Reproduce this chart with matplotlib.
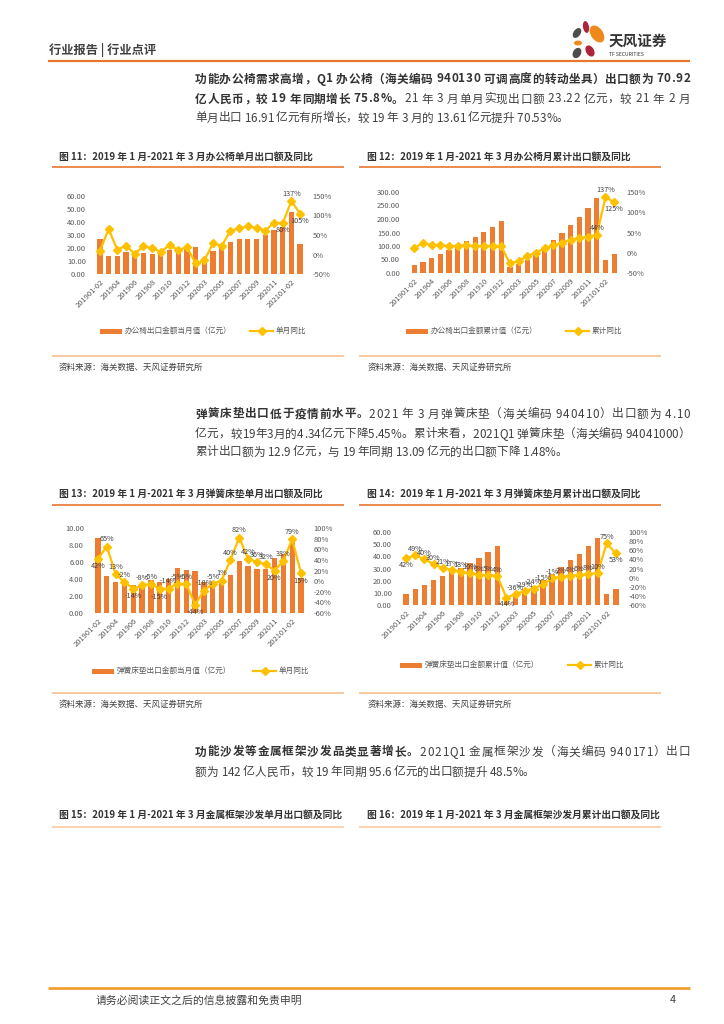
import matplotlib
matplotlib.use("Agg")
import matplotlib.pyplot as plt
from matplotlib.patches import Ellipse, Rectangle
from matplotlib.font_manager import FontProperties
import numpy as np

FAM = ['Noto Sans CJK SC', 'DejaVu Sans']
plt.rcParams['font.family'] = FAM

# ---------------- data ----------------
months = ["201901-02", "201903", "201904", "201905", "201906", "201907", "201908", "201909",
          "201910", "201911", "201912", "202001-02", "202003", "202004", "202005", "202006",
          "202007", "202008", "202009", "202010", "202011", "202012", "202101-02", "202103"]

office_month = [26.7, 13.6, 13.8, 16.9, 16.0, 15.9, 15.4, 17.0, 18.2, 17.5, 20.0, 20.5,
                11.6, 17.7, 20.5, 24.4, 26.7, 27.2, 27.2, 30.0, 34.0, 36.0, 47.7, 23.2]
office_yoy_m = [10, 65, 12, 23, 1, 22, 16, 7, 24, 11, 19, -23, -15, 29, 22, 61, 67, 72,
                68, 61, 82, 80, 137, 105]
office_cum = [28, 40, 56, 71, 86, 102, 119, 134, 152, 171, 193, 22, 33, 50, 70, 93, 122,
              147, 177, 207, 240, 277, 48, 71]
office_yoy_c = [12, 24, 19, 19, 16, 17, 18, 17, 17, 17, 16, -26, -21, -8, 0, 11, 18, 25,
                32, 36, 40, 44, 137, 125]

mattress_month = [8.8, 4.34, 3.7, 3.5, 3.27, 3.1, 3.9, 3.7, 4.0, 5.35, 5.08, 4.96, 3.6,
                  3.5, 3.8, 4.5, 6.06, 5.55, 5.2, 5.2, 6.5, 7.0, 8.8, 4.1]
mattress_yoy_m = [42, 65, 13, -2, -14, -8, -5, -15, -14, -5, -5, -44, -18, -5, 1, 40, 82,
                  42, 36, 32, 20, 38, 79, 15]
mattress_cum = [9.0, 13.3, 16.8, 20.4, 23.6, 27.0, 30.7, 34.3, 38.3, 43.7, 48.9, 5.0, 8.6,
                12.1, 16.0, 20.4, 25.8, 31.2, 36.7, 41.8, 48.3, 55.2, 8.8, 12.9]
mattress_yoy_c = [42, 49, 40, 30, 21, 17, 13, 10, 6, 5, 4, -44, -36, -29, -24, -15, -1, 2,
                  4, 6, 8, 10, 75, 53]

# ---------------- styles ----------------
BAR = "#ED7D31"
LINE = "#FFC000"
TXT = "#333333"
BODY = "#404040"
TICK = "#595959"
ORANGE = "#E8772E"
PEACH = "#F8C9A0"
MS = 4.3

W, H = 724, 1024
fig = plt.figure(figsize=(W / 100, H / 100), dpi=100)
bg = fig.add_axes([0, 0, 1, 1])
bg.set_xlim(0, W)
bg.set_ylim(H, 0)
bg.axis('off')
renderer = fig.canvas.get_renderer()


def hline(y, x0, x1, color, lw):
    bg.plot([x0, x1], [y, y], color=color, lw=lw, solid_capstyle='butt')


def measure(s, size, bold):
    fp = FontProperties(family=FAM, size=size, weight='bold' if bold else 'normal')
    w, h, d = renderer.get_text_width_height_descent(s, fp, ismath=False)
    return w


def runs(x, y, parts, size=8.4, justify_to=None):
    chars = [(c, b) for text, b in parts for c in text]
    widths = [measure(c, size, b) for c, b in chars]
    extra = 0.0
    if justify_to is not None and len(chars) > 1:
        extra = (justify_to - x - sum(widths)) / (len(chars) - 1)
    for (c, b), w in zip(chars, widths):
        if c != " ":
            bg.text(x, y, c, fontsize=size, color=TXT if b else BODY, va='center',
                    ha='left', fontweight='bold' if b else 'normal')
        x += w + extra


# ---------------- header ----------------
bg.text(49, 50, "行业报告 | 行业点评", fontsize=8.8, color="#404040", va='center',
        fontweight='bold')
hline(60.5, 48, 690, ORANGE, 1.6)
for (cx, cy, w, h, ang, col) in [(577, 33, 7, 11, 35, "#4D4D4D"),
                                 (586, 27, 6, 12, -10, "#B0243B"),
                                 (597, 34, 12, 19, -35, "#EE8A1C"),
                                 (578, 43, 8, 5, 0, "#EE8A1C"),
                                 (577, 53, 8, 11, 30, "#4D4D4D"),
                                 (590, 51, 8, 12, -30, "#B0243B")]:
    bg.add_patch(Ellipse((cx, cy), w, h, angle=ang, color=col, lw=0))
bg.text(609, 41, "天风证券", fontsize=10.5, color="#333333", va='center',
        fontweight='bold')
bg.text(609, 55, "TF SECURITIES", fontsize=3.6, color="#333333", va='center')

# ---------------- paragraphs ----------------
PX, PR = 195, 690
runs(PX, 79, [("功能办公椅需求高增，Q1 办公椅（海关编码 940130 可调高度的转动坐具）出口额为 70.92", True)],
     justify_to=PR)
runs(PX, 99, [("亿人民币，较 19 年同期增长 75.8%。", True),
              ("21 年 3 月单月实现出口额 23.22 亿元，较 21 年 2 月", False)], justify_to=PR)
runs(PX, 118, [("单月出口 16.91 亿元有所增长，较 19 年 3 月的 13.61 亿元提升 70.53%。", False)])

runs(PX, 414, [("弹簧床垫出口低于疫情前水平。", True),
               ("2021 年 3 月弹簧床垫（海关编码 940410）出口额为 4.10", False)], justify_to=PR)
runs(PX, 434, [("亿元，较19年3月的4.34亿元下降5.45%。累计来看，2021Q1 弹簧床垫（海关编码 94041000）", False)],
     justify_to=PR)
runs(PX, 452, [("累计出口额为 12.9 亿元，与 19 年同期 13.09 亿元的出口额下降 1.48%。", False)])

runs(PX, 752, [("功能沙发等金属框架沙发品类显著增长。", True),
               ("2021Q1 金属框架沙发（海关编码 940171）出口", False)], justify_to=PR)
runs(PX, 772, [("额为 142 亿人民币，较 19 年同期 95.6 亿元的出口额提升 48.5%。", False)])

# ---------------- chart titles / sources ----------------
LX0, LX1, RX0, RX1 = 52, 344, 359, 661


def title(x, y, text, x0, x1, col, uy):
    bg.text(x, y, text, fontsize=7.0, color=TXT, va='center', fontweight='bold')
    hline(uy, x0, x1, col, 1.2)


title(59, 157, "图 11：2019 年 1 月-2021 年 3 月办公椅单月出口额及同比", LX0, LX1, ORANGE, 167)
title(367, 157, "图 12：2019 年 1 月-2021 年 3 月办公椅月累计出口额及同比", RX0, RX1, ORANGE, 167)
title(59, 494, "图 13：2019 年 1 月-2021 年 3 月弹簧床垫单月出口额及同比", LX0, LX1, ORANGE, 505)
title(367, 494, "图 14：2019 年 1 月-2021 年 3 月弹簧床垫月累计出口额及同比", RX0, RX1, ORANGE, 505)
title(59, 815, "图 15：2019 年 1 月-2021 年 3 月金属框架沙发单月出口额及同比", LX0, LX1, PEACH, 827)
title(367, 815, "图 16：2019 年 1 月-2021 年 3 月金属框架沙发月累计出口额及同比", RX0, RX1, PEACH, 827)

for (ly, ty) in [(356, 367), (693, 704)]:
    hline(ly, LX0, LX1, PEACH, 1.4)
    hline(ly, RX0, RX1, PEACH, 1.4)
    bg.text(59, ty, "资料来源：海关数据、天风证券研究所", fontsize=6.1, color="#404040", va='center')
    bg.text(368, ty, "资料来源：海关数据、天风证券研究所", fontsize=6.1, color="#404040", va='center')

# ---------------- footer ----------------
hline(988, 48, 690, "#F0A030", 2.0)
bg.text(96, 1000, "请务必阅读正文之后的信息披露和免责申明", fontsize=7.8, color="#404040", va='center')
bg.text(670, 1000, "4", fontsize=7.8, color="#404040", va='center')


# ---------------- charts ----------------
def chart(left, right, top, bottom, bars, yoy, ylim, ystep, rlim, rstep,
          bar_label, line_label, label_idx, leg_y, leg_x1, leg_x2):
    ax = fig.add_axes([left / W, 1 - bottom / H, (right - left) / W, (bottom - top) / H])
    x = np.arange(len(months))
    ax.bar(x, bars, width=0.6, color=BAR, zorder=2)
    ax.set_xlim(-0.5, len(months) - 0.5)
    ax.set_ylim(*ylim)
    lt = np.arange(ylim[0], ylim[1] + 1e-9, ystep)
    ax.set_yticks(lt)
    ax.set_yticklabels([f"{v:.2f}" for v in lt])
    ax.set_xticks(x[::2])
    ax.set_xticklabels(months[::2], rotation=45, ha='right', rotation_mode='anchor')
    ax2 = ax.twinx()
    ax2.plot(x, yoy, color=LINE, lw=1.6, marker='D', ms=MS, zorder=3)
    ax2.set_ylim(*rlim)
    rt = np.arange(rlim[0], rlim[1] + 1e-9, rstep)
    ax2.set_yticks(rt)
    ax2.set_yticklabels([f"{int(v)}%" for v in rt])
    for a in (ax, ax2):
        for s in a.spines.values():
            s.set_visible(False)
        a.tick_params(length=0, labelsize=5.4, labelcolor=TICK)
        a.patch.set_visible(False)
    ax.tick_params(axis='y', pad=7)
    ax.tick_params(axis='x', pad=3)
    ax2.tick_params(axis='y', pad=6)
    ax.set_zorder(2)
    ax2.set_zorder(3)
    span = rlim[1] - rlim[0]
    for i in label_idx:
        v = yoy[i]
        prev = yoy[i - 1] if i > 0 else v + 1
        nxt = yoy[i + 1] if i < len(yoy) - 1 else v + 1
        below = v < prev and v < nxt
        off = -0.09 * span if below else 0.085 * span
        ax2.text(i, v + off, f"{v}%", fontsize=5.2, color="#404040", ha='center',
                 va='center', zorder=4)
    bg.add_patch(Rectangle((leg_x1, leg_y - 2.5), 22, 5, color=BAR, lw=0))
    bg.text(leg_x1 + 25, leg_y, bar_label, fontsize=5.5, color=TICK, va='center')
    bg.plot([leg_x2, leg_x2 + 23], [leg_y, leg_y], color=LINE, lw=1.6)
    bg.plot([leg_x2 + 11.5], [leg_y], color=LINE, marker='D', ms=MS)
    bg.text(leg_x2 + 26, leg_y, line_label, fontsize=5.5, color=TICK, va='center')
    return ax


chart(95.6, 304.4, 196, 274, office_month, office_yoy_m, (0, 60), 10,
      (-50, 150), 50, "办公椅出口金额当月值（亿元）", "单月同比",
      [21, 22, 23], 331, 100, 250)
chart(410.0, 618.5, 192, 273, office_cum, office_yoy_c, (0, 300), 50,
      (-50, 150), 50, "办公椅出口金额累计值（亿元）", "累计同比",
      [21, 22, 23], 331, 406, 566)
chart(93.6, 305.4, 528, 613, mattress_month, mattress_yoy_m, (0, 10), 2,
      (-60, 100), 20, "弹簧床垫出口金额当月值（亿元）", "单月同比",
      list(range(24)), 671, 92, 253)
chart(401.6, 620.4, 532, 605, mattress_cum, mattress_yoy_c, (0, 60), 10,
      (-60, 100), 20, "弹簧床垫出口金额累计值（亿元）", "累计同比",
      list(range(24)), 665, 400, 568)

fig.savefig("out.png", dpi=100)
